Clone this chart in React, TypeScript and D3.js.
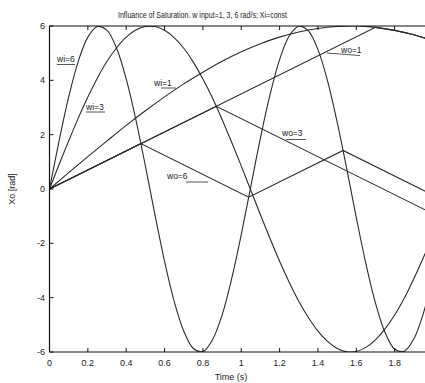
import React from "react";
import * as d3 from "d3";

// time samples (s)
const timeSamples = [0,0.05,0.1,0.15,0.2,0.25,0.3,0.35,0.4,0.45,0.5,0.55,0.6,0.65,0.7,0.75,0.8,0.85,0.9,0.95,1,1.05,1.1,1.15,1.2,1.25,1.3,1.35,1.4,1.45,1.5,1.55,1.6,1.65,1.7,1.75,1.8,1.85,1.9,1.95,2];
// input wi=6 rad/s
const wi6 = [0,1.77,3.39,4.70,5.59,5.98,5.84,5.18,4.05,2.56,0.85,-0.95,-2.66,-4.13,-5.23,-5.87,-5.98,-5.55,-4.64,-3.30,-1.68,0.10,1.87,3.47,4.76,5.63,5.99,5.82,5.13,3.98,2.47,0.75,-1.05,-2.75,-4.20,-5.28,-5.89,-5.97,-5.52,-4.57,-3.22];
// input wi=3 rad/s
const wi3 = [0,0.90,1.77,2.61,3.39,4.09,4.70,5.20,5.59,5.85,5.98,5.98,5.84,5.57,5.18,4.67,4.05,3.35,2.56,1.72,0.85,-0.05,-0.95,-1.82,-2.66,-3.43,-4.13,-4.73,-5.23,-5.61,-5.87,-5.99,-5.98,-5.83,-5.55,-5.15,-4.64,-4.02,-3.30,-2.52,-1.68];
// input wi=1 rad/s
const wi1Time = [0,0.1,0.2,0.3,0.4,0.5,0.6,0.7,0.8,0.9,1.0,1.1,1.2,1.3,1.4,1.5,1.6,1.7,1.8,1.9,2.0];
const wi1 = [0,0.60,1.19,1.77,2.34,2.88,3.39,3.87,4.30,4.70,5.05,5.35,5.59,5.78,5.91,5.98,6.00,5.95,5.84,5.68,5.46];
// rate-limited outputs
const wo1Time = [0,1.70,1.8,1.9,2.0];
const wo1 = [0,5.95,5.84,5.68,5.46];
const wo3Time = [0,0.87,2.0];
const wo3 = [0,3.045,-0.91];
const wo6Time = [0,0.476,1.039,1.531,2.0];
const wo6 = [0,1.67,-0.30,1.42,-0.22];

const xTicks = [0,0.2,0.4,0.6,0.8,1,1.2,1.4,1.6,1.8];
const xTickLabels = ["0","0.2","0.4","0.6","0.8","1","1.2","1.4","1.6","1.8"];
const yTicks = [-6,-4,-2,0,2,4,6];

const W = 425, H = 383;
const L = 49.5, R = 433, T = 26, B = 352;

export default function App() {
  const x = d3.scaleLinear().domain([0, 2]).range([L, R]);
  const y = d3.scaleLinear().domain([-6, 6]).range([B, T]);
  const smooth = d3.line<[number, number]>().x(d => x(d[0])).y(d => y(d[1])).curve(d3.curveCatmullRom.alpha(0.5));
  const straight = d3.line<[number, number]>().x(d => x(d[0])).y(d => y(d[1]));
  const zip = (ts: number[], vs: number[]) => ts.map((t, i) => [t, vs[i]] as [number, number]);
  const stroke = "#2a2a2a";
  const font = "'Liberation Sans', Arial, sans-serif";
  const lbl = { fontFamily: font, fontSize: 8.5, fill: "#222" } as const;
  return (
    <svg width={W} height={H} style={{ position: "absolute", left: 0, top: 0, background: "#fff" }}>
      <defs>
        <clipPath id="plot"><rect x={L} y={T} width={R - L} height={B - T} /></clipPath>
      </defs>
      <text x={202.5} y={18} textAnchor="middle" fontFamily={font} fontSize={9.5} textLength={169} lengthAdjust="spacingAndGlyphs" fill="#222">Influance of Saturation. w input=1, 3, 6 rad/s; Xi=const</text>
      <g clipPath="url(#plot)" fill="none" stroke={stroke} strokeWidth={1.1}>
        <path d={smooth(zip(timeSamples, wi6)) || ""} />
        <path d={smooth(zip(timeSamples, wi3)) || ""} />
        <path d={smooth(zip(wi1Time, wi1)) || ""} />
        <path d={straight(zip(wo1Time, wo1)) || ""} />
        <path d={straight(zip(wo3Time, wo3)) || ""} />
        <path d={straight(zip(wo6Time, wo6)) || ""} />
      </g>
      {/* axes */}
      <g stroke="#111" strokeWidth={1.2} fill="none">
        <line x1={L} y1={T} x2={W} y2={T} />
        <line x1={L} y1={B} x2={W} y2={B} />
        <line x1={L} y1={T} x2={L} y2={B} />
      </g>
      <g stroke="#111" strokeWidth={1}>
        {xTicks.map(t => (
          <g key={"xt" + t}>
            <line x1={x(t)} x2={x(t)} y1={B} y2={B - 4} />
            <line x1={x(t)} x2={x(t)} y1={T} y2={T + 4} />
          </g>
        ))}
        {yTicks.map(v => (
          <line key={"yt" + v} x1={L} x2={L + 4} y1={y(v)} y2={y(v)} />
        ))}
      </g>
      <g fontFamily={font} fontSize={9} fill="#222">
        {xTicks.map((t, i) => (
          <text key={"xl" + t} x={x(t)} y={366} textAnchor="middle">{xTickLabels[i]}</text>
        ))}
        {yTicks.map(v => (
          <text key={"yl" + v} x={45} y={y(v) + 3} textAnchor="end">{String(v)}</text>
        ))}
        <text x={231} y={380} textAnchor="middle">Time (s)</text>
        <text transform="translate(15,189) rotate(-90)" textAnchor="middle">Xo [rad]</text>
      </g>
      {/* curve labels */}
      <g>
        <text x={57} y={62} {...lbl}>wi=6</text>
        <line x1={57} y1={64.5} x2={75} y2={64.5} stroke={stroke} strokeWidth={0.8} />
        <text x={86} y={110} {...lbl}>wi=3</text>
        <line x1={86} y1={112} x2={105} y2={112} stroke={stroke} strokeWidth={0.8} />
        <text x={154} y={86} {...lbl}>wi=1</text>
        <line x1={161} y1={88} x2={176} y2={88} stroke={stroke} strokeWidth={0.8} />
        <text x={341} y={53} {...lbl}>wo=1</text>
        <line x1={327} y1={53} x2={360} y2={55.5} stroke={stroke} strokeWidth={0.8} />
        <text x={282} y={136} {...lbl}>wo=3</text>
        <line x1={286} y1={139.5} x2={306} y2={139.5} stroke={stroke} strokeWidth={0.8} />
        <text x={167} y={179} {...lbl}>wo=6</text>
        <line x1={186} y1={182} x2={208} y2={182} stroke={stroke} strokeWidth={0.8} />
      </g>
    </svg>
  );
}
